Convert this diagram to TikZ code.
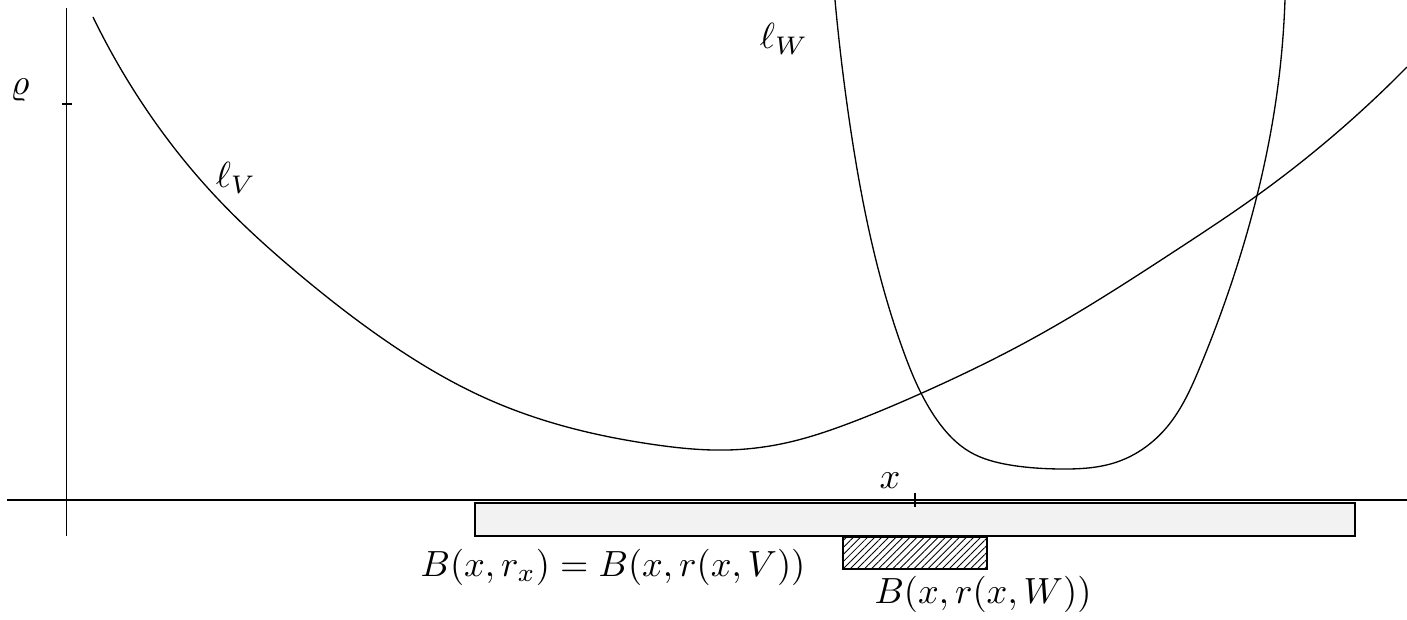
\documentclass[tikz,border=0pt]{standalone}
\usetikzlibrary{patterns.meta,hobby}
\tikzset{
  thinline/.style={line width=0.33pt, black},
  curve/.style={thinline, use Hobby shortcut},
  lbl/.style={inner sep=0pt, outer sep=0pt, scale=0.91},
  ballbox/.style={draw=black, line width=0.4pt, fill=black!5},
  hatchbox/.style={draw=black, line width=0.35pt, pattern={Lines[angle=45,distance=1.25pt,line width=0.22pt]}}
}
\begin{document}
\begin{tikzpicture}[x=0.25pt,y=-0.25pt]
\useasboundingbox (0,0) rectangle (1407,620);
% axes
\draw[thinline] (7,500) -- (1407,500);
\draw[thinline] (66.5,8) -- (66.5,536);
\draw[thinline] (62,104) -- (72,104);
% balls
\draw[ballbox] (475,503) rectangle (1355,536);
\draw[hatchbox] (843,537) rectangle (987,569);
\draw[thinline] (915,493) -- (915,507);
% curves
\draw[curve] (93,17) .. (140,100) .. (217,198) .. (300,275) .. (398,349) .. (483,397) .. (567,427) .. (650,444) .. (728,450) .. (790,442) .. (850,423) .. (922,393) .. (1030,340) .. (1178,249) .. (1255,197) .. (1407,67);
\draw[curve] (835,0) .. (850,125) .. (873,248) .. (903,350) .. (937,420) .. (970,452) .. (1010,465) .. (1060,469) .. (1117,462) .. (1167,427) .. (1200,367) .. (1242,250) .. (1276,100) .. (1285,0);
% labels
\node[lbl] (rho) at (20,90) {$\varrho$};
\node[lbl] (xl) at (890,481) {$x$};
\node[lbl] (lv) at (236,178) {$\ell_V$};
\node[lbl] (lw) at (784,39) {$\ell_W$};
\node[lbl] (bv) at (613,567) {$B(x,r_x)=B(x,r(x,V))$};
\node[lbl] (bw) at (983,594) {$B(x,r(x,W))$};
\end{tikzpicture}
\end{document}
